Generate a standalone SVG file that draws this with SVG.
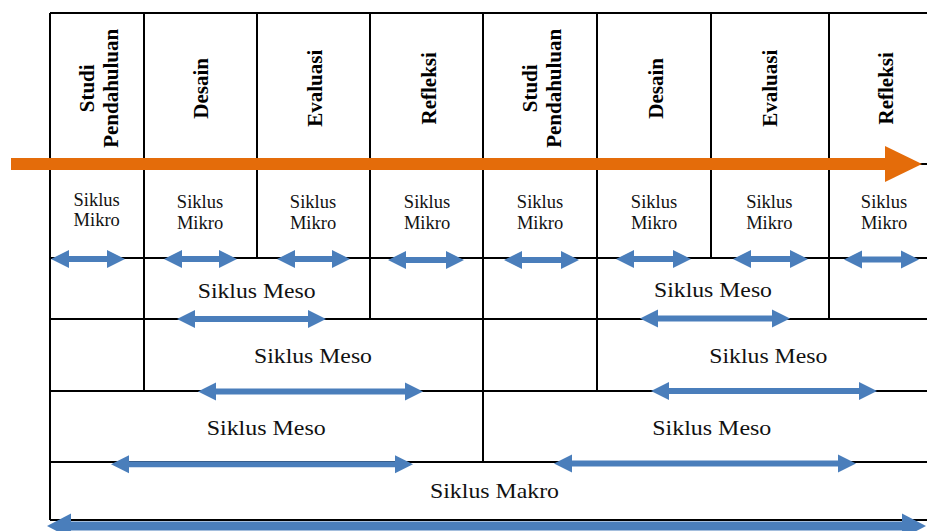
<svg xmlns="http://www.w3.org/2000/svg" width="927" height="531" viewBox="0 0 927 531">
<style>
.ln{stroke:#000;stroke-width:2;fill:none}
.hd{font-weight:bold;font-size:21px;fill:#000;text-anchor:middle}
.mk{font-size:18.5px;fill:#111;text-anchor:middle}
.ms{font-size:22px;fill:#111}
.ba{stroke:#4A7EBB;stroke-width:6;fill:none}
.bb{stroke:#4A7EBB;stroke-width:9;fill:none}
.or{stroke:#E46C0A;stroke-width:12;fill:none}
</style>
<defs>
<marker id="bh" markerUnits="userSpaceOnUse" markerWidth="19" markerHeight="20" viewBox="-1 -10 19 20" refX="0" refY="0" orient="auto-start-reverse"><path d="M-1,-9 L17,0 L-1,9 z" fill="#4A7EBB"/></marker>
<marker id="bhL" markerUnits="userSpaceOnUse" markerWidth="25" markerHeight="28" viewBox="-1 -14 25 28" refX="0" refY="0" orient="auto-start-reverse"><path d="M-1,-12.5 L23,0 L-1,12.5 z" fill="#4A7EBB"/></marker>
<marker id="oh" markerUnits="userSpaceOnUse" markerWidth="38" markerHeight="38" viewBox="-1 -19 38 38" refX="0" refY="0" orient="auto"><path d="M-1,-18 L36,0 L-1,18 z" fill="#E46C0A"/></marker>
</defs>
<rect width="927" height="531" fill="#fff"/>
<g id="grid">
<path class="ln" d="M50,13H927 M50,164H927 M50,258H927 M50,319H927 M50,391H927 M50,462H927 M50,520H927"/>
<path class="ln" d="M50,13V520 M144,13V391 M257,13V258 M370,13V319 M483,13V462 M597,13V391 M711,13V258 M829,13V319"/>
</g>
<g font-family="Liberation Serif, DejaVu Serif, serif">
<g id="headers">
<g id="h1"><text class="hd" transform="translate(94,88.3) rotate(-90)">Studi</text><text class="hd" transform="translate(118.3,88.3) rotate(-90)">Pendahuluan</text></g>
<g id="h2"><text class="hd" transform="translate(208.3,88.3) rotate(-90)">Desain</text></g>
<g id="h3"><text class="hd" transform="translate(322,88.3) rotate(-90)">Evaluasi</text></g>
<g id="h4"><text class="hd" transform="translate(435.7,88.3) rotate(-90)">Refleksi</text></g>
<g id="h5"><text class="hd" transform="translate(536.7,88.3) rotate(-90)">Studi</text><text class="hd" transform="translate(560.7,88.3) rotate(-90)">Pendahuluan</text></g>
<g id="h6"><text class="hd" transform="translate(662.7,88.3) rotate(-90)">Desain</text></g>
<g id="h7"><text class="hd" transform="translate(777.3,88.3) rotate(-90)">Evaluasi</text></g>
<g id="h8"><text class="hd" transform="translate(892.7,88.3) rotate(-90)">Refleksi</text></g>
</g>
<g id="mikro">
<g id="m1"><text class="mk" x="96.7" y="205.7">Siklus</text><text class="mk" x="96.7" y="226">Mikro</text></g>
<g id="m2"><text class="mk" x="200" y="208.3">Siklus</text><text class="mk" x="200" y="229.3">Mikro</text></g>
<g id="m3"><text class="mk" x="313" y="208.3">Siklus</text><text class="mk" x="313" y="229.3">Mikro</text></g>
<g id="m4"><text class="mk" x="427" y="208.3">Siklus</text><text class="mk" x="427" y="229.3">Mikro</text></g>
<g id="m5"><text class="mk" x="540" y="208.3">Siklus</text><text class="mk" x="540" y="229.3">Mikro</text></g>
<g id="m6"><text class="mk" x="654" y="208.3">Siklus</text><text class="mk" x="654" y="229.3">Mikro</text></g>
<g id="m7"><text class="mk" x="769.3" y="208.3">Siklus</text><text class="mk" x="769.3" y="229.3">Mikro</text></g>
<g id="m8"><text class="mk" x="884" y="208.3">Siklus</text><text class="mk" x="884" y="229.3">Mikro</text></g>
</g>
<g id="meso">
<g id="s1"><text class="ms" x="197.7" y="297.5" textLength="118" lengthAdjust="spacingAndGlyphs">Siklus Meso</text></g>
<g id="s2"><text class="ms" x="654" y="296.7" textLength="118" lengthAdjust="spacingAndGlyphs">Siklus Meso</text></g>
<g id="s3"><text class="ms" x="254" y="363.3" textLength="118" lengthAdjust="spacingAndGlyphs">Siklus Meso</text></g>
<g id="s4"><text class="ms" x="709.3" y="363.3" textLength="118" lengthAdjust="spacingAndGlyphs">Siklus Meso</text></g>
<g id="s5"><text class="ms" x="206.7" y="435" textLength="119" lengthAdjust="spacingAndGlyphs">Siklus Meso</text></g>
<g id="s6"><text class="ms" x="652.3" y="435" textLength="119" lengthAdjust="spacingAndGlyphs">Siklus Meso</text></g>
<g id="makro"><text class="ms" x="430" y="498.3" textLength="129" lengthAdjust="spacingAndGlyphs">Siklus Makro</text></g>
</g>
</g>
<g id="connectors">
<line class="or" x1="11" y1="164" x2="886" y2="164" marker-end="url(#oh)"/>
<line class="ba" x1="68" y1="259" x2="108" y2="259" marker-start="url(#bh)" marker-end="url(#bh)"/>
<line class="ba" x1="181" y1="259" x2="220" y2="259" marker-start="url(#bh)" marker-end="url(#bh)"/>
<line class="ba" x1="294" y1="259" x2="333" y2="259" marker-start="url(#bh)" marker-end="url(#bh)"/>
<line class="ba" x1="405" y1="260" x2="447" y2="260" marker-start="url(#bh)" marker-end="url(#bh)"/>
<line class="ba" x1="521" y1="260" x2="562" y2="260" marker-start="url(#bh)" marker-end="url(#bh)"/>
<line class="ba" x1="633" y1="259" x2="674" y2="259" marker-start="url(#bh)" marker-end="url(#bh)"/>
<line class="ba" x1="750" y1="259" x2="791" y2="259" marker-start="url(#bh)" marker-end="url(#bh)"/>
<line class="ba" x1="861" y1="259.5" x2="902" y2="259.5" marker-start="url(#bh)" marker-end="url(#bh)"/>
<line class="ba" x1="194" y1="319" x2="309" y2="319" marker-start="url(#bh)" marker-end="url(#bh)"/>
<line class="ba" x1="657" y1="318.5" x2="773" y2="318.5" marker-start="url(#bh)" marker-end="url(#bh)"/>
<line class="ba" x1="215" y1="391.5" x2="406" y2="391.5" marker-start="url(#bh)" marker-end="url(#bh)"/>
<line class="ba" x1="668" y1="391" x2="860" y2="391" marker-start="url(#bh)" marker-end="url(#bh)"/>
<line class="ba" x1="128" y1="464.3" x2="396" y2="464.3" marker-start="url(#bh)" marker-end="url(#bh)"/>
<line class="ba" x1="571" y1="463.5" x2="839" y2="463.5" marker-start="url(#bh)" marker-end="url(#bh)"/>
<line class="bb" x1="70" y1="526" x2="903" y2="526" marker-start="url(#bhL)" marker-end="url(#bhL)"/>
</g>
</svg>
